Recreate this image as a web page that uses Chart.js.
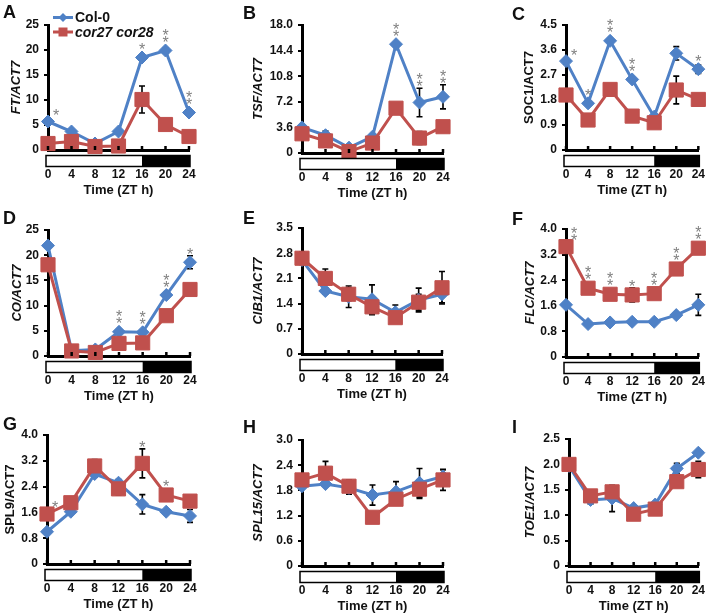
<!DOCTYPE html>
<html><head><meta charset="utf-8">
<script src="https://cdn.jsdelivr.net/npm/chart.js@4.4.0/dist/chart.umd.min.js"></script>
<style>
html,body{margin:0;padding:0;background:#fff;}
body{width:722px;height:613px;position:relative;overflow:hidden;font-family:"Liberation Sans",Arial,sans-serif;}
canvas.pnl{position:absolute;}
.lbl{position:absolute;font:bold 18px "Liberation Sans",Arial,sans-serif;color:#111;line-height:18px;}
</style></head><body>
<script>
// ---------- shared data ----------
const timePoints = [0, 4, 8, 12, 16, 20, 24];
const xTickLabels = ['0', '4', '8', '12', '16', '20', '24'];
const lightPeriod = [0, 16];
const darkPeriod = [16, 24];
const seriesNames = ['Col-0', 'cor27 cor28'];
const xAxisTitle = 'Time (ZT h)';

// A: FT
const ftCol = [5.7, 3.7, 1.3, 3.7, 18.5, 19.9, 7.5];
const ftCor = [1.3, 1.7, 0.7, 0.8, 10.1, 5.1, 2.7];
const ftColErr = [0.3, 0.3, 0.2, 0.3, 0.5, 0.5, 0.4];
const ftCorErr = [0.2, 0.3, 0.2, 0.2, 2.7, 0.4, 1.1];
const ftSig = [1, 0, 0, 0, 1, 2, 2];
const ftTicks = [0, 5, 10, 15, 20, 25];
const ftTickLabels = ['0', '5', '10', '15', '20', '25'];

// B: TSF
const tsfCol = [3.6, 2.5, 0.75, 2.3, 15.3, 7.1, 7.9];
const tsfCor = [2.7, 1.7, 0.2, 1.4, 6.3, 2.1, 3.7];
const tsfColErr = [0.3, 0.6, 0.2, 0.3, 0.3, 2.0, 1.7];
const tsfCorErr = [0.2, 0.3, 0.1, 0.2, 0.3, 0.9, 0.2];
const tsfSig = [0, 0, 0, 0, 2, 2, 2];
const tsfTicks = [0, 3.6, 7.2, 10.8, 14.4, 18.0];
const tsfTickLabels = ['0', '3.6', '7.2', '10.8', '14.4', '18.0'];

// C: SOC1
const soc1Col = [3.2, 1.68, 3.93, 2.54, 1.2, 3.48, 2.91];
const soc1Cor = [1.98, 1.08, 2.18, 1.22, 0.98, 2.16, 1.82];
const soc1ColErr = [0.1, 0.05, 0.05, 0.05, 0.05, 0.24, 0.15];
const soc1CorErr = [0.1, 0.05, 0.05, 0.05, 0.05, 0.5, 0.1];
const soc1Sig = [1, 1, 2, 2, 0, 0, 1];
const soc1Ticks = [0, 0.9, 1.8, 2.7, 3.6, 4.5];
const soc1TickLabels = ['0', '0.9', '1.8', '2.7', '3.6', '4.5'];

// D: CO
const coCol = [21.9, 1.05, 1.3, 4.8, 4.7, 12.1, 18.6];
const coCor = [18.1, 1.0, 0.7, 2.5, 2.6, 8.0, 13.2];
const coColErr = [0.4, 0.2, 0.2, 0.3, 0.3, 0.5, 1.3];
const coCorErr = [0.3, 0.2, 0.1, 0.3, 0.3, 0.3, 0.4];
const coSig = [0, 0, 0, 2, 2, 2, 1];
const coTicks = [0, 5, 10, 15, 20, 25];
const coTickLabels = ['0', '5', '10', '15', '20', '25'];

// E: CIB1
const cib1Col = [2.61, 1.75, 1.59, 1.52, 1.16, 1.5, 1.66];
const cib1Cor = [2.66, 2.1, 1.66, 1.31, 1.01, 1.44, 1.84];
const cib1ColErr = [0.1, 0.08, 0.3, 0.4, 0.2, 0.33, 0.24];
const cib1CorErr = [0.17, 0.26, 0.18, 0.22, 0.1, 0.22, 0.45];
const cib1Sig = [0, 0, 0, 0, 0, 0, 0];
const cib1Ticks = [0, 0.7, 1.4, 2.1, 2.8, 3.5];
const cib1TickLabels = ['0', '0.7', '1.4', '2.1', '2.8', '3.5'];

// F: FLC
const flcCol = [1.63, 1.03, 1.08, 1.1, 1.1, 1.31, 1.63];
const flcCor = [3.45, 2.15, 1.96, 1.94, 1.98, 2.75, 3.4];
const flcColErr = [0.05, 0.05, 0.05, 0.05, 0.05, 0.05, 0.33];
const flcCorErr = [0.08, 0.08, 0.05, 0.22, 0.05, 0.05, 0.05];
const flcSig = [2, 2, 2, 1, 2, 2, 2];
const flcTicks = [0, 0.8, 1.6, 2.4, 3.2, 4.0];
const flcTickLabels = ['0', '0.8', '1.6', '2.4', '3.2', '4.0'];

// G: SPL9
const spl9Col = [1.0, 1.62, 2.79, 2.52, 1.85, 1.62, 1.49];
const spl9Cor = [1.55, 1.9, 3.04, 2.33, 3.12, 2.14, 1.95];
const spl9ColErr = [0.05, 0.05, 0.1, 0.1, 0.3, 0.05, 0.2];
const spl9CorErr = [0.05, 0.05, 0.2, 0.2, 0.45, 0.05, 0.1];
const spl9Sig = [1, 0, 0, 0, 1, 1, 0];
const spl9Ticks = [0, 0.8, 1.6, 2.4, 3.2, 4.0];
const spl9TickLabels = ['0', '0.8', '1.6', '2.4', '3.2', '4.0'];

// H: SPL15
const spl15Col = [1.9, 1.95, 1.86, 1.69, 1.77, 1.98, 2.13];
const spl15Cor = [2.05, 2.21, 1.9, 1.16, 1.59, 1.83, 2.05];
const spl15ColErr = [0.05, 0.05, 0.15, 0.24, 0.24, 0.34, 0.16];
const spl15CorErr = [0.1, 0.28, 0.15, 0.1, 0.1, 0.22, 0.25];
const spl15Sig = [0, 0, 0, 0, 0, 0, 0];
const spl15Ticks = [0, 0.6, 1.2, 1.8, 2.4, 3.0];
const spl15TickLabels = ['0', '0.6', '1.2', '1.8', '2.4', '3.0'];

// I: TOE1
const toe1Col = [1.97, 1.3, 1.33, 1.14, 1.21, 1.92, 2.23];
const toe1Cor = [2.0, 1.38, 1.46, 1.02, 1.12, 1.66, 1.9];
const toe1ColErr = [0.03, 0.08, 0.26, 0.03, 0.03, 0.1, 0.03];
const toe1CorErr = [0.03, 0.1, 0.12, 0.03, 0.03, 0.05, 0.16];
const toe1Sig = [0, 0, 0, 0, 0, 0, 0];
const toe1Ticks = [0, 0.5, 1.0, 1.5, 2.0, 2.5];
const toe1TickLabels = ['0', '0.5', '1.0', '1.5', '2.0', '2.5'];

// ---------- styling / layout ----------
const BLUE = '#4f81c6';
const RED = '#c0504d';
const FAM = '"Liberation Sans", Arial, sans-serif';
const HX = 46;

const panels = [
  {letter:'A', title:'FT/ACT7', italic:true, col:ftCol, cor:ftCor, colErr:ftColErr, corErr:ftCorErr, sig:ftSig, ticks:ftTicks, tickLabels:ftTickLabels, legend:true,
   box:[0,0,240,205], area:[48,189,25,150], titleX:16, lp:[3,3]},
  {letter:'B', title:'TSF/ACT7', italic:true, col:tsfCol, cor:tsfCor, colErr:tsfColErr, corErr:tsfCorErr, sig:tsfSig, ticks:tsfTicks, tickLabels:tsfTickLabels,
   box:[240,0,240,205], area:[62,203,25,153], titleX:18, lp:[243,4]},
  {letter:'C', title:'SOC1/ACT7', italic:false, col:soc1Col, cor:soc1Cor, colErr:soc1ColErr, corErr:soc1CorErr, sig:soc1Sig, ticks:soc1Ticks, tickLabels:soc1TickLabels,
   box:[480,0,242,205], area:[86,229,25,150], titleX:49, lp:[512,5]},
  {letter:'D', title:'CO/ACT7', italic:true, col:coCol, cor:coCor, colErr:coColErr, corErr:coCorErr, sig:coSig, ticks:coTicks, tickLabels:coTickLabels,
   box:[0,205,240,205], area:[48,190,25,151], titleX:17, lp:[3,209]},
  {letter:'E', title:'CIB1/ACT7', italic:true, col:cib1Col, cor:cib1Cor, colErr:cib1ColErr, corErr:cib1CorErr, sig:cib1Sig, ticks:cib1Ticks, tickLabels:cib1TickLabels,
   box:[240,205,240,205], area:[62,202,23,149], titleX:18, lp:[243,209]},
  {letter:'F', title:'FLC/ACT7', italic:true, col:flcCol, cor:flcCor, colErr:flcColErr, corErr:flcCorErr, sig:flcSig, ticks:flcTicks, tickLabels:flcTickLabels,
   box:[480,205,242,205], area:[86,231,24,152], titleX:50, lp:[512,210]},
  {letter:'G', title:'SPL9/ACT7', italic:false, col:spl9Col, cor:spl9Cor, colErr:spl9ColErr, corErr:spl9CorErr, sig:spl9Sig, ticks:spl9Ticks, tickLabels:spl9TickLabels,
   box:[0,410,240,203], area:[47,190,25,154], titleX:10, lp:[3,415]},
  {letter:'H', title:'SPL15/ACT7', italic:true, col:spl15Col, cor:spl15Cor, colErr:spl15ColErr, corErr:spl15CorErr, sig:spl15Sig, ticks:spl15Ticks, tickLabels:spl15TickLabels,
   box:[240,410,240,203], area:[62,203,30,156], titleX:18, lp:[243,418]},
  {letter:'I', title:'TOE1/ACT7', italic:true, col:toe1Col, cor:toe1Cor, colErr:toe1ColErr, corErr:toe1CorErr, sig:toe1Sig, ticks:toe1Ticks, tickLabels:toe1TickLabels,
   box:[480,410,242,203], area:[89,233,29,156], titleX:50, lp:[512,418]}
];

function drawMarker(ctx, kind, x, y, r, color) {
  ctx.save();
  ctx.fillStyle = color;
  ctx.beginPath();
  if (kind === 'diamond') {
    ctx.moveTo(x - r, y); ctx.lineTo(x, y - r); ctx.lineTo(x + r, y); ctx.lineTo(x, y + r); ctx.closePath();
  } else {
    ctx.rect(x - r, y - r, 2 * r, 2 * r);
  }
  ctx.fill();
  ctx.restore();
}

function makeExtras(p) {
  return {
    id: 'extras' + p.letter,
    beforeDatasetsDraw(chart) {
      const ctx = chart.ctx, xs = chart.scales.x, ys = chart.scales.y;
      ctx.save();
      ctx.strokeStyle = '#000';
      ctx.lineWidth = 1.6;
      [[p.col, p.colErr], [p.cor, p.corErr]].forEach(([vals, errs]) => {
        vals.forEach((v, i) => {
          const x = xs.getPixelForValue(timePoints[i]);
          const y1 = ys.getPixelForValue(v + errs[i]);
          const y2 = ys.getPixelForValue(Math.max(0, v - errs[i]));
          ctx.beginPath();
          ctx.moveTo(x, y1); ctx.lineTo(x, y2);
          ctx.moveTo(x - 3, y1); ctx.lineTo(x + 3, y1);
          ctx.moveTo(x - 3, y2); ctx.lineTo(x + 3, y2);
          ctx.stroke();
        });
      });
      ctx.restore();
    },
    afterDraw(chart) {
      const ctx = chart.ctx, xs = chart.scales.x, ys = chart.scales.y, a = chart.chartArea;
      ctx.save();
      // light / dark bar
      const xa = xs.getPixelForValue(lightPeriod[0]) - 2;
      const xb = xs.getPixelForValue(lightPeriod[1]);
      const xc = xs.getPixelForValue(darkPeriod[1]) + 1;
      const by = a.bottom + 5.5, bh = 11;
      ctx.fillStyle = '#fff';
      ctx.fillRect(xa, by, xb - xa, bh);
      ctx.fillStyle = '#000';
      ctx.fillRect(xb, by, xc - xb, bh);
      ctx.strokeStyle = '#000';
      ctx.lineWidth = 1.5;
      ctx.strokeRect(xa, by, xc - xa, bh);
      // inward x tick marks
      ctx.lineWidth = 2.5;
      timePoints.forEach(t => {
        const x = xs.getPixelForValue(t);
        ctx.beginPath(); ctx.moveTo(x, a.bottom); ctx.lineTo(x, a.bottom - 4); ctx.stroke();
      });
      // significance stars
      ctx.fillStyle = '#808080';
      ctx.font = '16px ' + FAM;
      ctx.textAlign = 'center';
      ctx.textBaseline = 'alphabetic';
      p.sig.forEach((n, i) => {
        if (!n) return;
        let top = Infinity;
        [[p.col, p.colErr, 6.5], [p.cor, p.corErr, 7]].forEach(([v, e, r]) => {
          top = Math.min(top, ys.getPixelForValue(v[i] + e[i]), ys.getPixelForValue(v[i]) - r);
        });
        let sx = xs.getPixelForValue(timePoints[i]);
        let cy = top - 5;
        if (i === 0) { sx += 8; cy = top - 3; }
        for (let k = 0; k < n; k++) {
          ctx.fillText('*', sx, cy - k * 7 + 9);
        }
      });
      // legend
      if (p.legend) {
        const rows = [
          {name: seriesNames[0], color: BLUE, kind: 'diamond', r: 4.5, italic: false, y: a.top - 7.5},
          {name: seriesNames[1], color: RED, kind: 'square', r: 4.5, italic: true, y: a.top + 7}
        ];
        rows.forEach(row => {
          ctx.strokeStyle = row.color;
          ctx.lineWidth = 3;
          ctx.beginPath(); ctx.moveTo(a.left + 5, row.y); ctx.lineTo(a.left + 25, row.y); ctx.stroke();
          drawMarker(ctx, row.kind, a.left + 15, row.y, row.r, row.color);
          ctx.fillStyle = '#111';
          ctx.textAlign = 'left';
          ctx.textBaseline = 'middle';
          ctx.font = (row.italic ? 'italic ' : '') + 'bold 14px ' + FAM;
          ctx.fillText(row.name, a.left + 27, row.y + 1);
        });
      }
      ctx.restore();
    }
  };
}

panels.forEach(p => {
  const [bx, by, bw, bh] = p.box;
  const [L, R, T, B] = p.area;
  const cv = document.createElement('canvas');
  cv.className = 'pnl';
  cv.width = bw; cv.height = bh;
  cv.style.left = bx + 'px'; cv.style.top = by + 'px';
  cv.style.width = bw + 'px'; cv.style.height = bh + 'px';
  document.body.appendChild(cv);
  const lb = document.createElement('div');
  lb.className = 'lbl';
  lb.textContent = p.letter;
  lb.style.left = p.lp[0] + 'px'; lb.style.top = p.lp[1] + 'px';
  document.body.appendChild(lb);

  new Chart(cv, {
    type: 'line',
    data: {
      datasets: [
        {label: seriesNames[1], data: timePoints.map((t, i) => ({x: t, y: p.cor[i]})),
         borderColor: RED, backgroundColor: RED, pointBackgroundColor: RED, pointBorderColor: RED,
         pointStyle: 'rect', pointRadius: 10, pointBorderWidth: 1, borderWidth: 3, tension: 0, clip: false, order: 0},
        {label: seriesNames[0], data: timePoints.map((t, i) => ({x: t, y: p.col[i]})),
         borderColor: BLUE, backgroundColor: BLUE, pointBackgroundColor: BLUE, pointBorderColor: BLUE,
         pointStyle: 'rectRot', pointRadius: 6.5, pointBorderWidth: 1, borderWidth: 3, tension: 0, clip: false, order: 1}
      ]
    },
    options: {
      responsive: false, animation: false, events: [],
      devicePixelRatio: 1,
      layout: {padding: {left: 0, top: T, right: bw - R, bottom: bh - B - HX}},
      plugins: {legend: {display: false}, tooltip: {enabled: false}},
      scales: {
        x: {
          type: 'linear', position: 'bottom', min: 0, max: 24,
          afterBuildTicks: s => { s.ticks = timePoints.map(v => ({value: v})); },
          afterFit: s => { s.height = HX; },
          grid: {display: false, drawTicks: false, tickLength: 0},
          border: {display: true, color: '#000', width: 3},
          ticks: {padding: 17, color: '#111', autoSkip: false, maxRotation: 0,
                  font: {family: FAM, size: 12, weight: 'bold'},
                  callback: (v, i) => xTickLabels[i]},
          title: {display: true, text: xAxisTitle, color: '#111',
                  font: {family: FAM, size: 13, weight: 'bold'}, padding: {top: 0, bottom: -2}}
        },
        y: {
          type: 'linear', min: 0, max: p.ticks[p.ticks.length - 1],
          afterBuildTicks: s => { s.ticks = p.ticks.map(v => ({value: v})); },
          afterFit: s => { s.width = L; },
          grid: {display: true, drawOnChartArea: false, drawTicks: true, tickLength: 4, color: '#000', lineWidth: 2},
          border: {display: true, color: '#000', width: 3},
          ticks: {padding: 5, color: '#111', autoSkip: false,
                  font: {family: FAM, size: 12, weight: 'bold'},
                  callback: (v, i) => p.tickLabels[i]},
          title: {display: true, text: p.title, color: '#111',
                  font: {family: FAM, size: 13, weight: 'bold', style: p.italic ? 'italic' : 'normal'},
                  padding: {top: p.titleX - 7.8, bottom: 0}}
        }
      }
    },
    plugins: [makeExtras(p)]
  });
});
</script>
</body></html>
